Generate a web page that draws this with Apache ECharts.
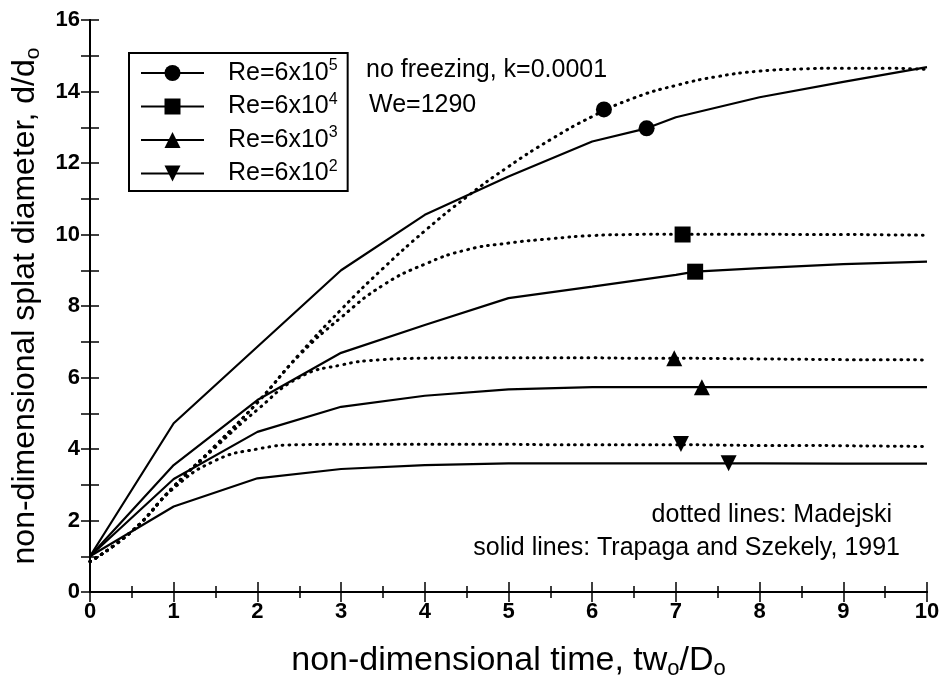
<!DOCTYPE html>
<html>
<head>
<meta charset="utf-8">
<script src="https://cdn.jsdelivr.net/npm/echarts@6/dist/echarts.min.js"></script>
<style>
html, body { margin: 0; padding: 0; background: #fff; }
#chart { width: 946px; height: 692px; }
</style>
</head>
<body>
<div id="chart"></div>
<script>
// solid lines: Trapaga and Szekely (sampled at integer times)
var xSolid = [0, 1, 2, 3, 4, 5, 6, 7, 8, 9, 10];
var solid5 = [1, 4.72, 6.86, 9.0, 10.55, 11.62, 12.6, 13.28, 13.84, 14.27, 14.68];
var solid4 = [1, 3.55, 5.37, 6.69, 7.47, 8.22, 8.54, 8.87, 9.06, 9.17, 9.24];
var solid3 = [1, 3.16, 4.48, 5.18, 5.49, 5.67, 5.73, 5.73, 5.73, 5.73, 5.73];
var solid2 = [1, 2.39, 3.18, 3.44, 3.55, 3.6, 3.6, 3.6, 3.6, 3.59, 3.59];

// dotted lines: Madejski (sampled every 0.5)
var xDot = [0, 0.5, 1, 1.5, 2, 2.5, 3, 3.5, 4, 4.5, 5, 5.5, 6, 6.5, 7, 7.5, 8, 8.5, 9, 9.5, 10];
var dot5 = [0.85, 1.7, 2.95, 4.1, 5.3, 6.65, 7.9, 9.05, 10.1, 11.05, 11.9, 12.65, 13.3, 13.82, 14.17, 14.42, 14.57, 14.63, 14.65, 14.65, 14.62];
var dot4 = [0.85, 1.7, 2.95, 4.1, 5.3, 6.62, 7.68, 8.58, 9.17, 9.57, 9.76, 9.88, 9.97, 10.0, 10.01, 10.01, 10.01, 10.0, 10.0, 9.99, 9.98];
var dot3 = [0.85, 1.7, 2.95, 4.05, 5.1, 6.0, 6.35, 6.5, 6.54, 6.55, 6.55, 6.55, 6.55, 6.54, 6.54, 6.53, 6.52, 6.51, 6.5, 6.5, 6.49];
var dot2 = [0.85, 1.7, 2.9, 3.68, 4.0, 4.12, 4.13, 4.13, 4.13, 4.13, 4.13, 4.12, 4.12, 4.12, 4.12, 4.11, 4.1, 4.1, 4.09, 4.08, 4.07];

// one marker on each curve [x, y]
var markSolid = { '5': [6.65, 12.97], '4': [7.23, 8.96], '3': [7.31, 5.73], '2': [7.63, 3.6] };
var markDot = { '5': [6.14, 13.5], '4': [7.08, 10.0], '3': [6.98, 6.54], '2': [7.06, 4.14] };

var names = ['Re=6x10^5', 'Re=6x10^4', 'Re=6x10^3', 'Re=6x10^2'];
var FONT = '"Liberation Sans", Arial, sans-serif';

var symbols = {
    '5': 'circle',
    '4': 'rect',
    '3': 'triangle',
    '2': 'path://M0,0 L10,0 L5,9 Z'
};

function build(xs, ys, mark) {
    var pts = xs.map(function (x, i) {
        return { value: [x, ys[i]], symbol: 'none' };
    });
    pts.push({ value: mark });
    pts.sort(function (a, b) { return a.value[0] - b.value[0]; });
    return pts;
}

var series = [];
[['5', solid5, dot5], ['4', solid4, dot4], ['3', solid3, dot3], ['2', solid2, dot2]].forEach(function (s, i) {
    var k = s[0];
    series.push({
        name: names[i],
        type: 'line',
        data: build(xSolid, s[1], markSolid[k]),
        symbol: symbols[k],
        symbolSize: 16,
        showSymbol: true,
        showAllSymbol: true,
        lineStyle: { color: '#000', width: 2.2 },
        itemStyle: { color: '#000' },
        animation: false,
        z: 3
    });
    series.push({
        name: 'Madejski ' + names[i],
        type: 'line',
        data: xDot.map(function (x, j) { return [x, s[2][j]]; }),
        symbol: 'none',
        smooth: 0.5,
        lineStyle: { color: '#000', width: 3, type: [0.8, 6], cap: 'round' },
        animation: false,
        z: 2
    });
    series.push({
        name: 'Madejski marker ' + names[i],
        type: 'scatter',
        data: [markDot[k]],
        symbol: symbols[k],
        symbolSize: 16,
        itemStyle: { color: '#000', opacity: 1 },
        animation: false,
        z: 4
    });
});

var chart = echarts.init(document.getElementById('chart'));
chart.setOption({
    backgroundColor: '#fff',
    animation: false,
    grid: { left: 90, right: 19, top: 20, bottom: 100 },
    legend: {
        data: names,
        orient: 'vertical',
        left: 129,
        top: 53,
        itemWidth: 63,
        itemHeight: 20,
        itemGap: 6,
        padding: [5, 10, 5, 11],
        borderColor: '#000',
        borderWidth: 2,
        backgroundColor: '#fff',
        selectedMode: false,
        formatter: function (n) {
            var p = n.split('^');
            return '{b|' + p[0] + '}{s|' + p[1] + '}';
        },
        textStyle: {
            color: '#000',
            fontFamily: FONT,
            rich: {
                b: { fontSize: 25, fontFamily: FONT, color: '#000', padding: [0, 0, 0, 19], lineHeight: 24 },
                s: { fontSize: 16, fontFamily: FONT, color: '#000', padding: [0, 0, 14, 0] }
            }
        }
    },
    xAxis: [{
        type: 'value', min: 0, max: 10, interval: 1, position: 'bottom',
        name: '{a|non-dimensional time, tw}{s|o}{a|/D}{s|o}',
        nameLocation: 'middle', nameGap: 50,
        nameTextStyle: {
            rich: {
                a: { fontSize: 34, fontFamily: FONT, color: '#000' },
                s: { fontSize: 22, fontFamily: FONT, color: '#000', padding: [16, 0, 0, 0] }
            }
        },
        axisLine: { lineStyle: { color: '#000', width: 2 } },
        axisTick: { inside: true, length: 10, lineStyle: { color: '#000', width: 1.5 } },
        minorTick: { show: true, splitNumber: 2, length: 6, lineStyle: { color: '#000', width: 1.5 } },
        axisLabel: { color: '#000', fontSize: 22, fontWeight: 'bold', fontFamily: FONT, margin: 9 },
        splitLine: { show: false }
    }, {
        type: 'value', min: 0, max: 10, interval: 1, position: 'top',
        axisLine: { lineStyle: { color: '#000', width: 2 } },
        axisTick: { inside: true, length: 10, lineStyle: { color: '#000', width: 1.5 } },
        minorTick: { show: true, splitNumber: 2, length: 6, lineStyle: { color: '#000', width: 1.5 } },
        axisLabel: { show: false },
        splitLine: { show: false }
    }],
    yAxis: [{
        type: 'value', min: 0, max: 16, interval: 2, position: 'left',
        name: '{a|non-dimensional splat diameter, d/d}{s|o}',
        nameLocation: 'middle', nameGap: 46, nameRotate: 90,
        nameTextStyle: {
            rich: {
                a: { fontSize: 32, fontFamily: FONT, color: '#000' },
                s: { fontSize: 21, fontFamily: FONT, color: '#000', padding: [16, 0, 0, 0] }
            }
        },
        axisLine: { lineStyle: { color: '#000', width: 2 } },
        axisTick: { inside: true, length: 9, lineStyle: { color: '#000', width: 1.5 } },
        minorTick: { show: true, splitNumber: 2, length: 9, lineStyle: { color: '#000', width: 1.5 } },
        axisLabel: { color: '#000', fontSize: 22, fontWeight: 'bold', fontFamily: FONT, margin: 10 },
        splitLine: { show: false }
    }, {
        type: 'value', min: 0, max: 16, interval: 2, position: 'right',
        axisLine: { lineStyle: { color: '#000', width: 2 } },
        axisTick: { inside: true, length: 9, lineStyle: { color: '#000', width: 1.5 } },
        minorTick: { show: true, splitNumber: 2, length: 9, lineStyle: { color: '#000', width: 1.5 } },
        axisLabel: { show: false },
        splitLine: { show: false }
    }],
    graphic: [
        { type: 'text', left: 366, top: 58, style: { text: 'no freezing, k=0.0001', font: '25px ' + FONT, fill: '#000' } },
        { type: 'text', left: 369, top: 93, style: { text: 'We=1290', font: '25px ' + FONT, fill: '#000' } },
        { type: 'text', right: 54, top: 503, style: { text: 'dotted lines: Madejski', font: '25px ' + FONT, fill: '#000' } },
        { type: 'text', right: 46, top: 536, style: { text: 'solid lines: Trapaga and Szekely, 1991', font: '25px ' + FONT, fill: '#000' } }
    ],
    series: series
});
</script>
</body>
</html>
